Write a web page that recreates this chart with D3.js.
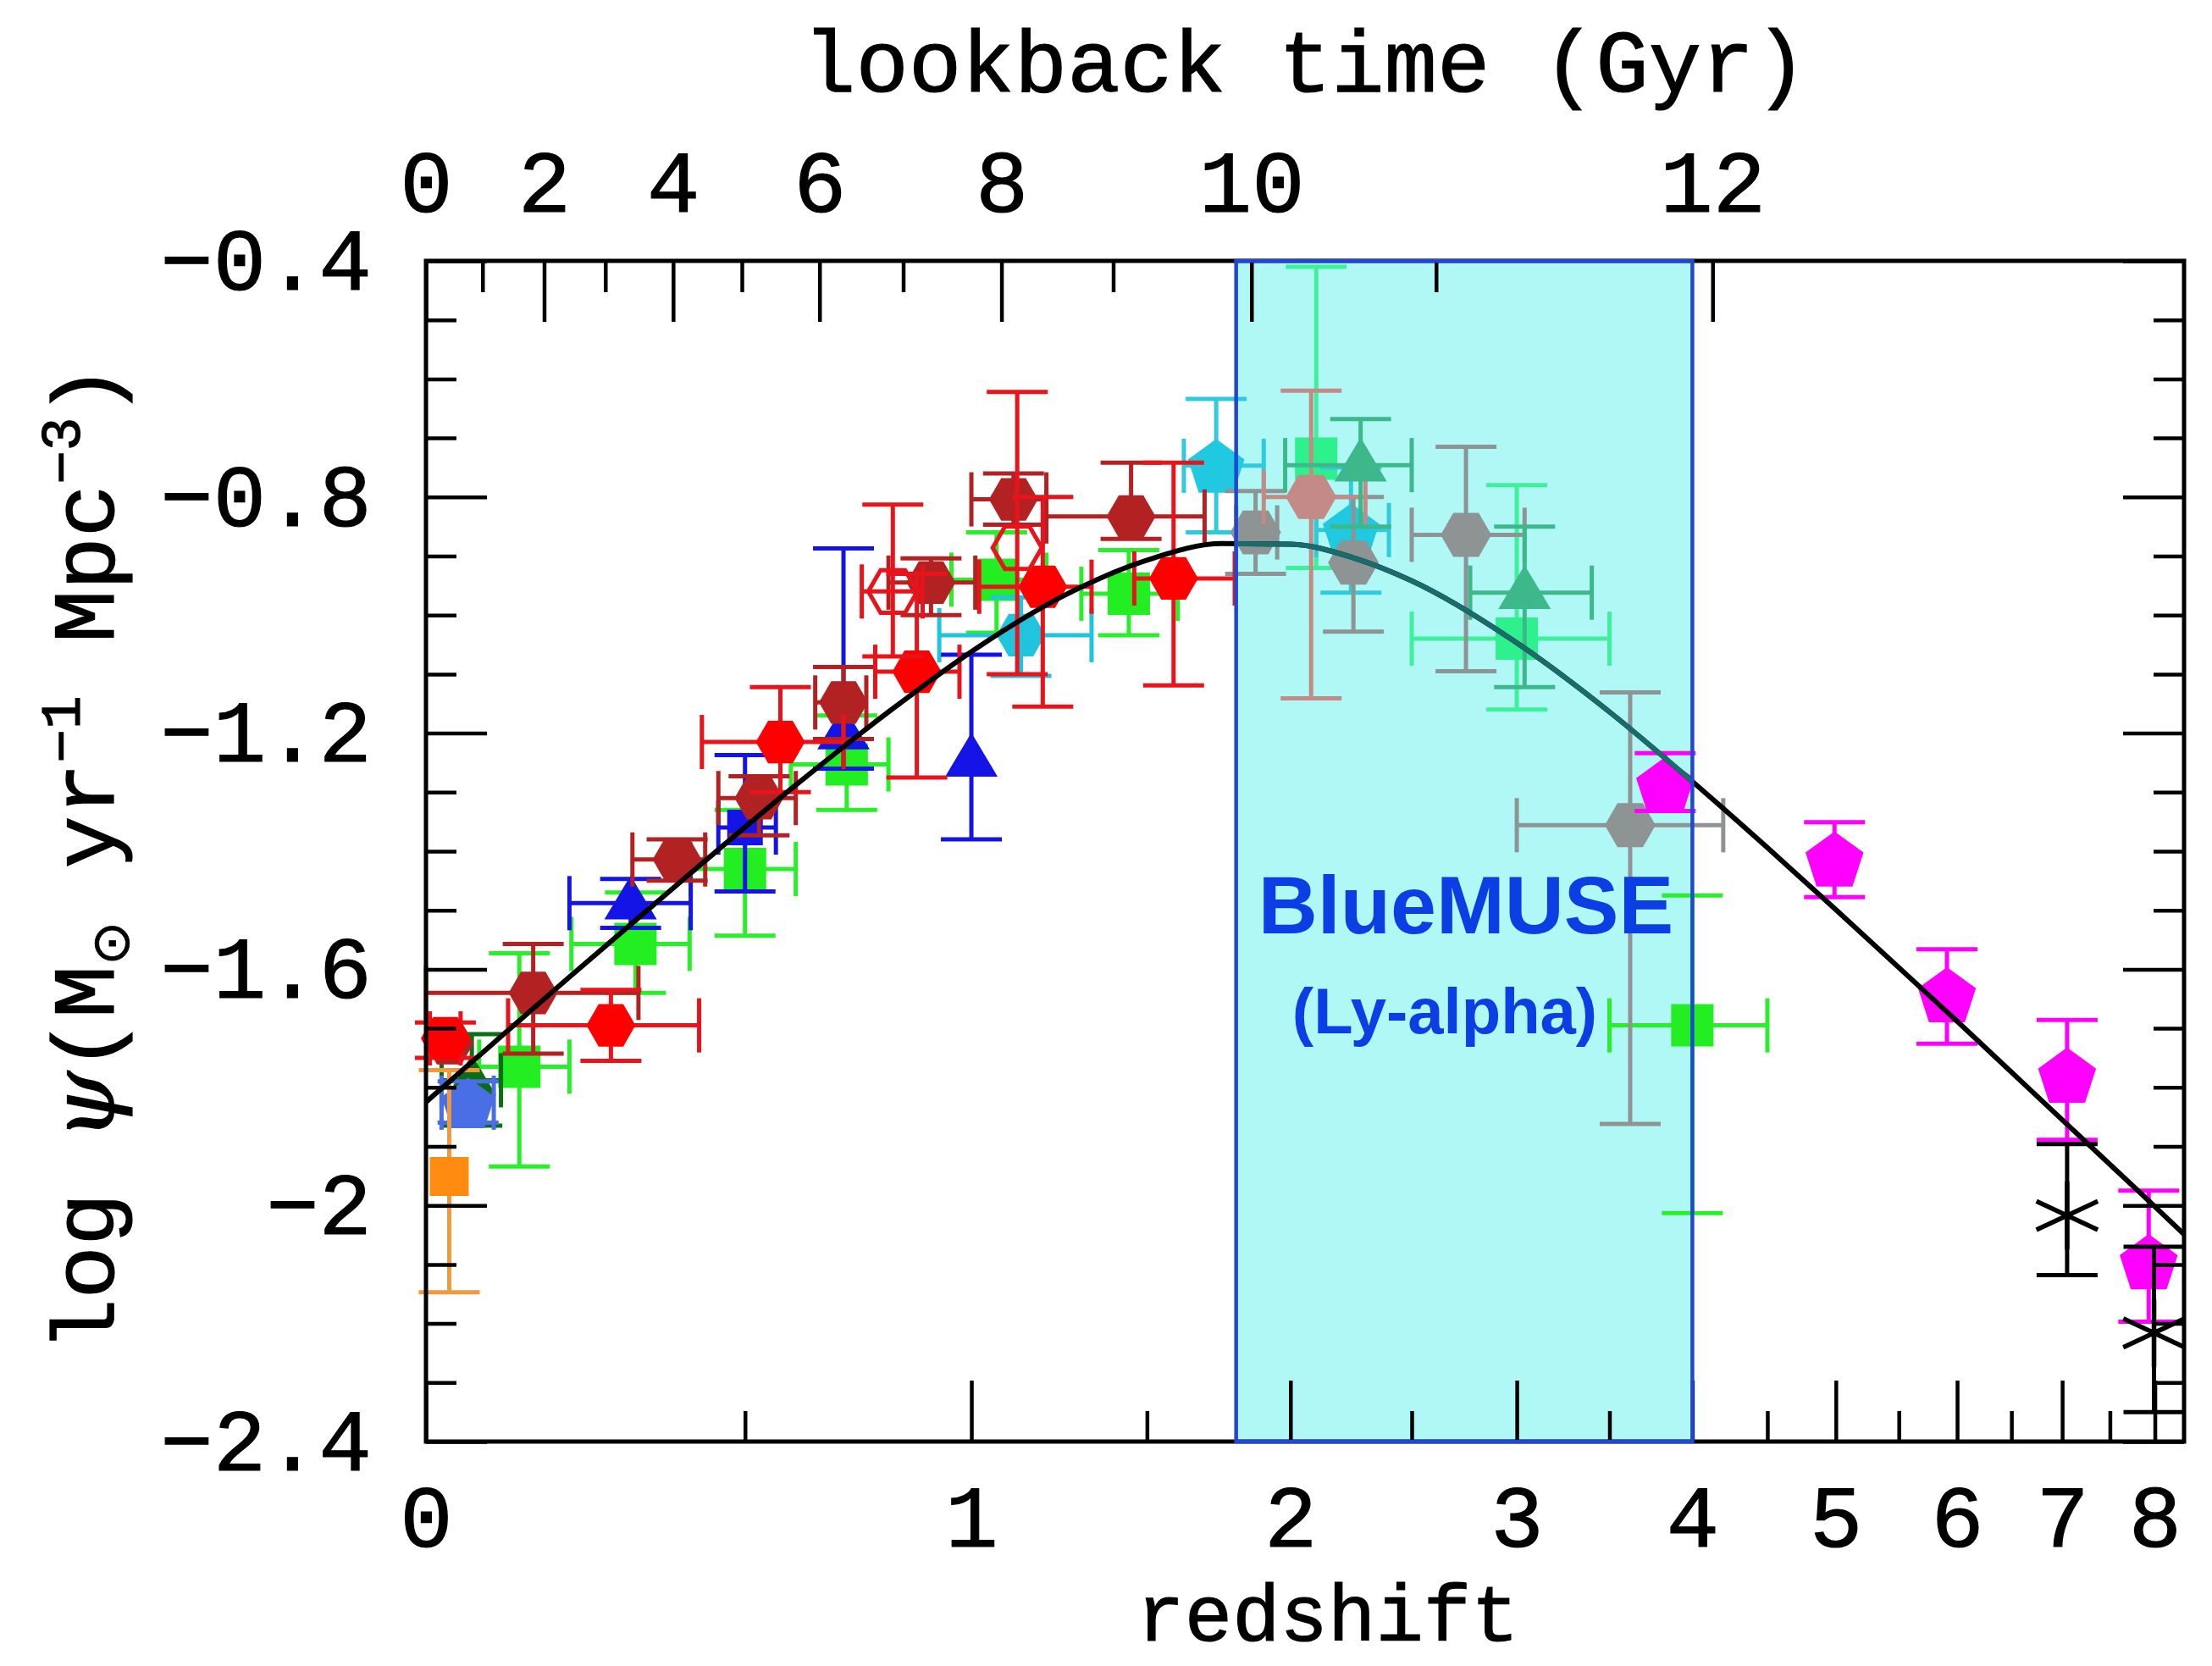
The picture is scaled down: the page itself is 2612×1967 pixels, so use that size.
<!DOCTYPE html>
<html><head><meta charset="utf-8">
<script src="https://cdn.jsdelivr.net/npm/d3@7"></script>
<style>html,body{margin:0;padding:0;background:#fff;overflow:hidden}svg{display:block}</style>
</head><body>
<svg id="chart" width="2612" height="1967"></svg>
<script>
// ---------------- DATA ----------------
// model curve (log SFR density vs redshift)
const curveZ   = [0, 0.05, 0.1, 0.2, 0.4, 0.6, 0.8, 1.0, 1.25, 1.5, 1.75, 2.0, 2.25, 2.5, 3.0, 3.5, 4.0, 4.5, 5.0, 6.0, 7.0, 8.0, 8.34];
const curveLog = [-1.825, -1.768, -1.714, -1.613, -1.437, -1.288, -1.164, -1.062, -0.967, -0.907, -0.879, -0.880, -0.903, -0.942, -1.047, -1.164, -1.282, -1.394, -1.499, -1.688, -1.855, -2.002, -2.049];

// axis ticks
const redshiftMajor = [0, 1, 2, 3, 4, 5, 6, 7, 8];
const redshiftMinor = [0.5, 1.5, 2.5, 3.5, 4.5, 5.5, 6.5, 7.5];
const lookbackMajorGyr = [0, 2, 4, 6, 8, 10, 12];
const lookbackMajorZ   = [0, 0.162, 0.369, 0.649, 1.078, 1.855, 4.13];
const lookbackMinorGyr = [1, 3, 5, 7, 9, 11];
const lookbackMinorZ   = [0.0745, 0.256, 0.494, 0.834, 1.395, 2.61];
const yMajor = [-0.4, -0.8, -1.2, -1.6, -2.0, -2.4];
const yMajorLabels = ["\u22120.4", "\u22120.8", "\u22121.2", "\u22121.6", "\u22122", "\u22122.4"];
const yMinor = [-0.5,-0.6,-0.7,-0.9,-1.0,-1.1,-1.3,-1.4,-1.5,-1.7,-1.8,-1.9,-2.1,-2.2,-2.3];

// BlueMUSE redshift window
const blueMuseRange = [1.8, 4.0];

// points: [z, logSFR, zLo, zHi, logLo, logHi]
const redHex = [
  [0.025, -1.717, 0.005, 0.045, -1.75, -1.69],
  [0.265, -1.695, 0.11, 0.415, -1.755, -1.635],
  [0.569, -1.215, 0.42, 0.70, -1.30, -1.122],
  [0.866, -1.096, 0.77, 0.97, -1.275, -0.93],
  [1.19, -0.952, 1.02, 1.33, -1.155, -0.80],
  [1.586, -0.938, 1.46, 1.795, -1.119, -0.742]
];
const redOpenHex = [
  [0.81, -0.96, 0.74, 0.88, -1.07, -0.813],
  [1.12, -0.886, null, null, -1.10, -0.622]
];
const firebrickHex = [
  [0.03, -1.725, null, null, null, null],
  [0.146, -1.64, 0.0, 0.31, -1.743, -1.557],
  [0.376, -1.414, 0.30, 0.426, -1.45, -1.38],
  [0.527, -1.31, 0.45, 0.60, -1.373, -1.273],
  [0.70, -1.148, 0.64, 0.75, -1.21, -1.088],
  [0.90, -0.945, 0.80, 1.01, -1.0, -0.904],
  [1.11, -0.804, 1.0, 1.2, -0.847, -0.76],
  [1.45, -0.833, 1.2, 1.69, -0.871, -0.742]
];
const greenSquares = [
  [0.126, -1.765, 0.07, 0.2, -1.934, -1.573],
  [0.305, -1.557, 0.203, 0.398, -1.64, -1.47],
  [0.50, -1.43, 0.40, 0.60, -1.543, -1.33],
  [0.707, -1.253, 0.59, 0.80, -1.33, -1.17],
  [1.065, -0.94, 0.95, 1.2, -1.03, -0.86],
  [1.443, -0.964, 1.3, 1.6, -1.034, -0.89],
  [4.0, -1.695, 3.5, 4.5, -2.013, -1.475]
];
const springGreenSquares = [
  [2.1, -0.735, null, null, -0.92, -0.41],
  [3.0, -1.04, 2.5, 3.5, -1.16, -0.78]
];
const blueTriangles = [
  [0.297, -1.488, 0.2, 0.4, -1.53, -1.447],
  [0.70, -1.20, null, null, -1.26, -0.887],
  [1.0, -1.246, null, null, -1.38, -1.067]
];
const blueSquares = [
  [0.50, -1.36, 0.45, 0.56, -1.468, -1.237]
];
const royalBluePent = [
  [0.055, -1.826, 0.02, 0.09, -1.86, -1.79]
];
const darkGreenTri = [
  [0.06, -1.788, 0.02, 0.1, -1.865, -1.71]
];
const orangeSquares = [
  [0.03, -1.951, null, null, -2.147, -1.771]
];
const cyanPent = [
  [1.73, -0.747, 1.62, 1.9, -0.86, -0.634],
  [2.24, -0.856, 2.1, 2.4, -0.962, -0.75]
];
const cyanHex = [
  [1.13, -1.034, 0.92, 1.33, -1.103, -0.97]
];
const grayHex = [
  [1.87, -0.86, 1.8, 1.95, -0.93, -0.79],
  [2.25, -0.911, null, null, -1.028, -0.80],
  [2.75, -0.864, 2.5, 3.04, -1.095, -0.715],
  [3.62, -1.356, 3.0, 4.2, -1.862, -1.131]
];
const rosyHex = [
  [2.08, -0.80, 1.9, 2.3, -1.141, -0.62]
];
const seaGreenTri = [
  [2.28, -0.746, 1.98, 2.5, -0.85, -0.668],
  [3.04, -0.962, 2.77, 3.4, -1.122, -0.85]
];
const magentaPent = [
  [3.83, -1.287, null, null, -1.332, -1.234],
  [4.99, -1.413, null, null, -1.478, -1.351],
  [5.91, -1.643, null, null, -1.726, -1.566],
  [7.05, -1.779, null, null, -1.889, -1.686],
  [7.93, -2.095, null, null, -2.197, -1.975]
];
const blackAsterisks = [
  [7.05, -2.017, null, null, -2.118, -1.896],
  [7.99, -2.216, null, null, -2.35, -2.07]
];

// ---------------- LAYOUT ----------------
const L = 503, R = 2579, T = 308, B = 1702;
const svg = d3.select("#chart");
const x = d3.scaleLog().domain([1, 9.34]).range([L, R]);
const X = z => x(1 + z);
const y = d3.scaleLinear().domain([-2.4, -0.4]).range([B, T]);

const defs = svg.append("defs");
defs.append("clipPath").attr("id", "frameClip").append("rect")
  .attr("x", L).attr("y", T).attr("width", R - L).attr("height", B - T);
defs.append("clipPath").attr("id", "museClip").append("rect")
  .attr("x", X(blueMuseRange[0])).attr("y", T)
  .attr("width", X(blueMuseRange[1]) - X(blueMuseRange[0])).attr("height", B - T);

svg.append("rect").attr("width", 2612).attr("height", 1967).attr("fill", "#fff");

// BlueMUSE fill
svg.append("rect")
  .attr("x", X(blueMuseRange[0])).attr("y", T)
  .attr("width", X(blueMuseRange[1]) - X(blueMuseRange[0])).attr("height", B - T)
  .attr("fill", "#b0f8f5");

// ---------------- SYMBOLS ----------------
const symHex = {draw(ctx, r) { for (let i = 0; i < 6; i++) { const a = i * Math.PI / 3; const px = r * Math.cos(a), py = r * Math.sin(a); if (i) ctx.lineTo(px, py); else ctx.moveTo(px, py); } ctx.closePath(); }};
const symPent = {draw(ctx, r) { for (let i = 0; i < 5; i++) { const a = -Math.PI / 2 + i * 2 * Math.PI / 5; const px = r * Math.cos(a), py = r * Math.sin(a) + r * 0.1; if (i) ctx.lineTo(px, py); else ctx.moveTo(px, py); } ctx.closePath(); }};
const symSq = {draw(ctx, r) { ctx.rect(-r, -r, 2 * r, 2 * r); }};
const symTri = {draw(ctx, r) { ctx.moveTo(0, -r * 1.05); ctx.lineTo(r * 1.0, r * 0.62); ctx.lineTo(-r * 1.0, r * 0.62); ctx.closePath(); }};
const symAst = {draw(ctx, r) { [90, 25, 155].forEach(deg => { const a = deg * Math.PI / 180; ctx.moveTo(r * Math.cos(a), -r * Math.sin(a)); ctx.lineTo(-r * Math.cos(a), r * Math.sin(a)); }); }};

const series = [
  {data: greenSquares, sym: symSq, size: 25, fill: "#22ee22", err: "#2aee2a"},
  {data: springGreenSquares, sym: symSq, size: 25, fill: "#2ef08c", err: "#3ff09a"},
  {data: blueSquares, sym: symSq, size: 21, fill: "#1414e6", err: "#1414e6"},
  {data: cyanHex, sym: symHex, size: 29, fill: "#20c4dc", err: "#20c4dc"},
  {data: cyanPent, sym: symPent, size: 35, fill: "#20c8e0", err: "#30cadc"},
  {data: grayHex, sym: symHex, size: 30, fill: "#8e9494", err: "#8e9494"},
  {data: rosyHex, sym: symHex, size: 30, fill: "#c38a86", err: "#c38a86"},
  {data: seaGreenTri, sym: symTri, size: 31, fill: "#3cb88a", err: "#3cb88a"},
  {data: darkGreenTri, sym: symTri, size: 29, fill: "#0a6e14", err: "#0a6e14"},
  {data: royalBluePent, sym: symPent, size: 33, fill: "#4a6ee6", err: "#4a6ee6"},
  {data: orangeSquares, sym: symSq, size: 23, fill: "#ff8c10", err: "#f09a40"},
  {data: blueTriangles, sym: symTri, size: 31, fill: "#1414e6", err: "#1414e6"},
  {data: firebrickHex, sym: symHex, size: 29, fill: "#b22222", err: "#b22222"},
  {data: redHex, sym: symHex, size: 29, fill: "#ff0000", err: "#e8141c"},
  {data: redOpenHex, sym: symHex, size: 29, fill: "none", err: "#e8141c", open: true},
  {data: magentaPent, sym: symPent, size: 36, fill: "#ff00ff", err: "#ff00ff"},
  {data: blackAsterisks, sym: symAst, size: 40, fill: "none", err: "#000", stroke: true}
];

const plot = svg.append("g");
const capW = 36, capH = 32, ew = 5;
series.forEach(s => {
  const g = plot.append("g");
  s.data.forEach(d => {
    const [z, v, zLo, zHi, vLo, vHi] = d;
    const eg = g.append("g").attr("stroke", s.err).attr("stroke-width", ew).attr("fill", "none");
    if (vLo !== null) {
      eg.append("line").attr("x1", X(z)).attr("x2", X(z)).attr("y1", y(vLo)).attr("y2", y(vHi));
      [vLo, vHi].forEach(vv => eg.append("line").attr("x1", X(z) - capW).attr("x2", X(z) + capW).attr("y1", y(vv)).attr("y2", y(vv)));
    }
    if (zLo !== null) {
      eg.append("line").attr("x1", X(zLo)).attr("x2", X(zHi)).attr("y1", y(v)).attr("y2", y(v));
      [zLo, zHi].forEach(zz => eg.append("line").attr("x1", X(zz)).attr("x2", X(zz)).attr("y1", y(v) - capH).attr("y2", y(v) + capH));
    }
  });
  g.selectAll("path.m").data(s.data).join("path").attr("class", "m")
    .attr("d", d3.symbol().type(s.sym).size(s.size))
    .attr("transform", d => `translate(${X(d[0])},${y(d[1])})`)
    .attr("fill", s.fill)
    .attr("stroke", s.stroke || s.open ? s.err : "none")
    .attr("stroke-width", s.open ? 5 : 5.5);
});

// ---------------- CURVE ----------------
const curvePts = curveZ.map((z, i) => [z, curveLog[i]]);
const line = d3.line().x(d => X(d[0])).y(d => y(d[1])).curve(d3.curveMonotoneX);
svg.append("path").datum(curvePts).attr("d", line).attr("fill", "none")
  .attr("stroke", "#000").attr("stroke-width", 6).attr("clip-path", "url(#frameClip)");
svg.append("path").datum(curvePts).attr("d", line).attr("fill", "none")
  .attr("stroke", "#1a6c6c").attr("stroke-width", 6).attr("clip-path", "url(#museClip)");

// ---------------- AXES ----------------
const fontMono = "'Liberation Mono', 'Courier New', monospace";
function styleAxis(g) {
  g.select(".domain").remove();
  g.selectAll(".tick line").attr("stroke", "#000").attr("stroke-width", 4.5);
  g.selectAll(".tick text").attr("font-family", fontMono).attr("font-size", 104)
    .attr("fill", "#000").attr("stroke", "#000").attr("stroke-width", 1.2);
}
// bottom (redshift)
svg.append("g").attr("transform", `translate(0,${B})`)
  .call(d3.axisBottom(x).tickValues(redshiftMajor.map(z => 1 + z)).tickSize(-72).tickPadding(50)
    .tickFormat(d => String(Math.round(d - 1)))).call(styleAxis);
svg.append("g").attr("transform", `translate(0,${B})`)
  .call(d3.axisBottom(x).tickValues(redshiftMinor.map(z => 1 + z)).tickSize(-36).tickFormat("")).call(styleAxis);
// top (lookback time)
svg.append("g").attr("transform", `translate(0,${T})`)
  .call(d3.axisTop(x).tickValues(lookbackMajorZ.map(z => 1 + z)).tickSize(-72).tickPadding(58)
    .tickFormat((d, i) => String(lookbackMajorGyr[i]))).call(styleAxis);
svg.append("g").attr("transform", `translate(0,${T})`)
  .call(d3.axisTop(x).tickValues(lookbackMinorZ.map(z => 1 + z)).tickSize(-37).tickFormat("")).call(styleAxis);
// left
svg.append("g").attr("transform", `translate(${L},0)`)
  .call(d3.axisLeft(y).tickValues(yMajor).tickSize(-72).tickPadding(64)
    .tickFormat((d, i) => yMajorLabels[i])).call(styleAxis);
svg.append("g").attr("transform", `translate(${L},0)`)
  .call(d3.axisLeft(y).tickValues(yMinor).tickSize(-36).tickFormat("")).call(styleAxis);
// right
svg.append("g").attr("transform", `translate(${R},0)`)
  .call(d3.axisRight(y).tickValues(yMajor).tickSize(-72).tickFormat("")).call(styleAxis);
svg.append("g").attr("transform", `translate(${R},0)`)
  .call(d3.axisRight(y).tickValues(yMinor).tickSize(-36).tickFormat("")).call(styleAxis);

// frame
svg.append("rect").attr("x", L).attr("y", T).attr("width", R - L).attr("height", B - T)
  .attr("fill", "none").attr("stroke", "#000").attr("stroke-width", 5);

// BlueMUSE border
svg.append("rect")
  .attr("x", X(blueMuseRange[0])).attr("y", T)
  .attr("width", X(blueMuseRange[1]) - X(blueMuseRange[0])).attr("height", B - T)
  .attr("fill", "none").attr("stroke", "#1f47d4").attr("stroke-width", 4.5);

// ---------------- TEXT ----------------
const txt = (s, xx, yy, size) => svg.append("text").attr("x", xx).attr("y", yy)
  .attr("font-family", fontMono).attr("font-size", size).attr("text-anchor", "middle")
  .attr("fill", "#000").attr("stroke", "#000").attr("stroke-width", 1.2).text(s);
txt("lookback time (Gyr)", (L + R) / 2, 108, 104);
txt("redshift", 1568, 1937, 94);

const yt = svg.append("text").attr("transform", "translate(134,1013) rotate(-90)")
  .attr("font-family", fontMono).attr("font-size", 104).attr("text-anchor", "middle")
  .attr("fill", "#000").attr("stroke", "#000").attr("stroke-width", 1.2);
yt.append("tspan").text("log ");
yt.append("tspan").attr("font-family", "'DejaVu Serif', serif").attr("font-style", "italic").text("\u03c8");
yt.append("tspan").text("(M");
yt.append("tspan").attr("font-size", 62).attr("dy", 18).attr("font-family", "'DejaVu Sans', sans-serif").attr("stroke-width", 0.8).text("\u2299");
yt.append("tspan").attr("dy", -18).text(" yr");
yt.append("tspan").attr("font-size", 66).attr("dy", -40).text("\u22121");
yt.append("tspan").attr("dy", 40).text(" Mpc");
yt.append("tspan").attr("font-size", 66).attr("dy", -40).text("\u22123");
yt.append("tspan").attr("dy", 40).text(")");

svg.append("text").attr("x", 1731).attr("y", 1102).attr("text-anchor", "middle")
  .attr("font-family", "'Liberation Sans', Arial, sans-serif").attr("font-weight", "bold")
  .attr("font-size", 97).attr("fill", "#0b3fe3").text("BlueMUSE");
svg.append("text").attr("x", 1706).attr("y", 1220).attr("text-anchor", "middle")
  .attr("font-family", "'Liberation Sans', Arial, sans-serif").attr("font-weight", "bold")
  .attr("font-size", 76).attr("fill", "#0b3fe3").text("(Ly-alpha)");
</script>
</body></html>
